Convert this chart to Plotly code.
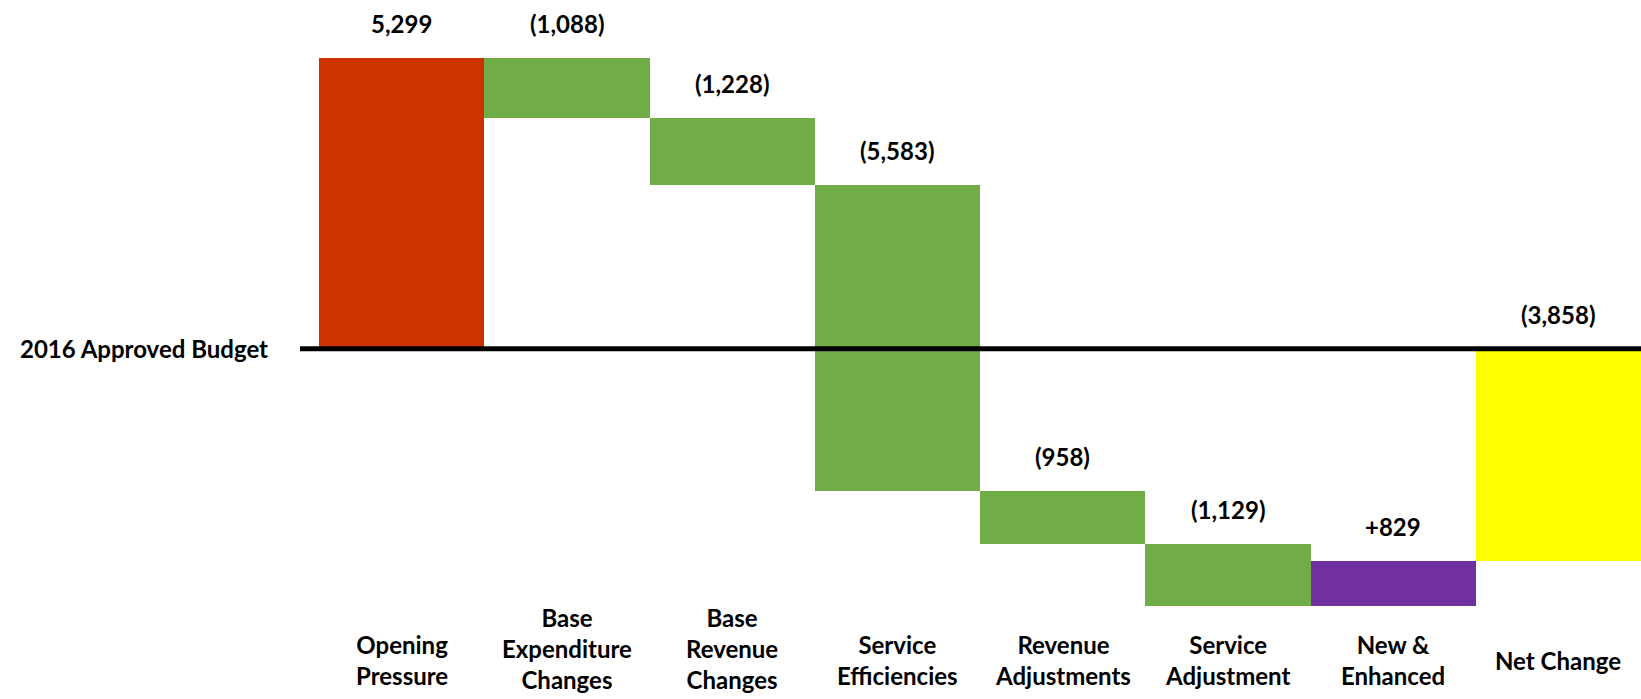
import plotly.graph_objects as go

# Budget bridge: opening pressure, adjustments, and the resulting net change
categories = [
    "Opening<br>Pressure",
    "Base<br>Expenditure<br>Changes",
    "Base<br>Revenue<br>Changes",
    "Service<br>Efficiencies",
    "Revenue<br>Adjustments",
    "Service<br>Adjustment",
    "New &<br>Enhanced",
    "Net Change",
]
changes = [5299, -1088, -1228, -5583, -958, -1129, 829]
net_change = -3858
value_labels = ["5,299", "(1,088)", "(1,228)", "(5,583)", "(958)", "(1,129)", "+829", "(3,858)"]
bar_colors = ["#CC3300", "#70AD47", "#70AD47", "#70AD47", "#70AD47", "#70AD47", "#7030A0", "#FFFF00"]
baseline_label = "2016 Approved Budget"

# floating bars: each step starts where the previous one ended
bases, heights = [], []
running = 0
for c in changes:
    bases.append(running)
    heights.append(c)
    running += c
bases.append(0)
heights.append(net_change)

idx = list(range(len(categories)))
ends = [b + h for b, h in zip(bases, heights)] + bases
y_lo, y_hi = min(ends), max(ends)

FONT = dict(family="Lato, 'Open Sans', sans-serif", size=24, color="black", weight="bold")

W, H = 1641, 699
ML, MR, MT, MB = 319, 0, 58, 93
plot_w = W - ML - MR

fig = go.Figure(
    go.Bar(
        x=idx,
        y=heights,
        base=bases,
        width=1,
        marker=dict(color=bar_colors, line=dict(width=0)),
        hoverinfo="skip",
    )
)

annotations = []
for i, (b, h, lab) in enumerate(zip(bases, heights, value_labels)):
    annotations.append(dict(
        x=i, y=max(b, b + h), xref="x", yref="y", text=lab,
        showarrow=False, yanchor="bottom", yshift=18, font=FONT,
    ))
for i, cat in enumerate(categories):
    n_lines = cat.count("<br>") + 1
    centre = 648 if n_lines >= 3 else 660
    annotations.append(dict(
        x=i, y=0, xref="x", yref="paper", text=cat,
        showarrow=False, yanchor="middle", yshift=-(centre - (H - MB)), font=FONT,
    ))
annotations.append(dict(
    x=(270 - ML) / plot_w, y=0, xref="paper", yref="y", text=baseline_label,
    showarrow=False, xanchor="right", yanchor="middle", font=FONT,
))

fig.update_layout(
    width=W, height=H,
    margin=dict(l=ML, r=MR, t=MT, b=MB, pad=0),
    paper_bgcolor="white", plot_bgcolor="white",
    showlegend=False,
    bargap=0,
    xaxis=dict(range=[-0.5, len(categories) - 0.5], visible=False, fixedrange=True),
    yaxis=dict(range=[y_lo, y_hi], visible=False, fixedrange=True),
    annotations=annotations,
    shapes=[dict(
        type="line", xref="paper", yref="y",
        x0=(300 - ML) / plot_w, x1=1, y0=0, y1=0,
        line=dict(color="black", width=5), layer="above",
    )],
)

fig.write_html("out.html")
